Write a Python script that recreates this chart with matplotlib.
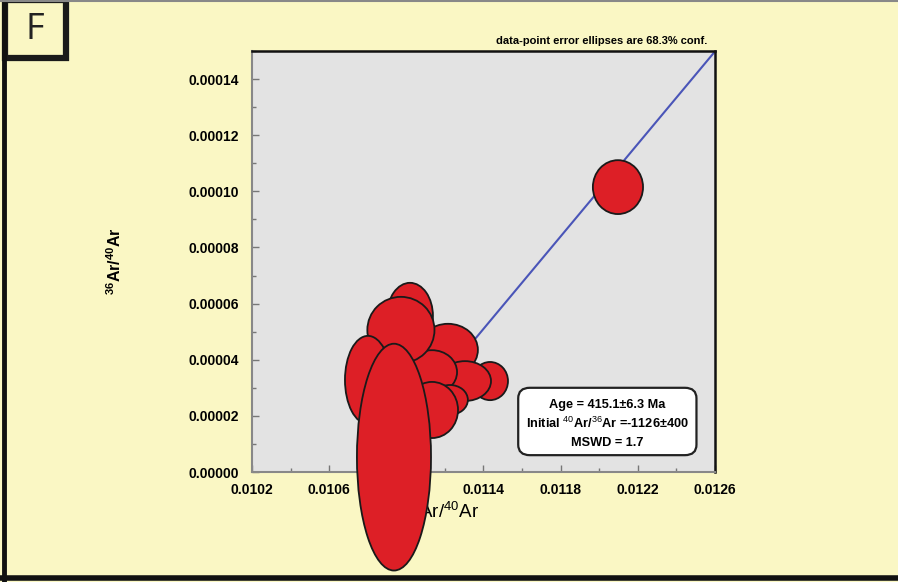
import numpy as np
import matplotlib
matplotlib.use("Agg")
import matplotlib.pyplot as plt
from matplotlib.patches import Ellipse, FancyBboxPatch, Rectangle
from matplotlib.ticker import FormatStrFormatter, MultipleLocator

plt.rcParams['font.family'] = ['Liberation Sans', 'DejaVu Sans']
plt.rcParams['mathtext.fontset'] = 'custom'
plt.rcParams['mathtext.rm'] = 'Liberation Sans'
plt.rcParams['mathtext.bf'] = 'Liberation Sans:bold'

# 39Ar/40Ar, 36Ar/40Ar and 1-sigma errors (ellipse half axes), back to front
ar39_40 = [0.011216, 0.011434, 0.011304, 0.011133, 0.011226, 0.011133,
           0.011019, 0.010972, 0.010801, 0.010936, 0.012097]
ar36_40 = [4.35e-5, 3.24e-5, 3.24e-5, 3.56e-5, 2.57e-5, 2.21e-5,
           5.56e-5, 5.06e-5, 3.28e-5, 5.3e-6, 1.015e-4]
err_x = [1.55e-4, 0.93e-4, 1.35e-4, 1.30e-4, 0.93e-4, 1.35e-4,
         1.19e-4, 1.74e-4, 1.19e-4, 1.92e-4, 1.30e-4]
err_y = [9.3e-6, 6.8e-6, 7.1e-6, 7.8e-6, 5.3e-6, 1.0e-5,
         1.18e-5, 1.18e-5, 1.57e-5, 4.04e-5, 9.6e-6]

# isochron fit
initial_40_36 = -1126
x_intercept = 0.010781

x_min, x_max = 0.0102, 0.0126
y_min, y_max = 0.0, 0.00015

BG = "#faf7c4"
fig = plt.figure(figsize=(8.98, 5.82), dpi=100, facecolor=BG)
ax = fig.add_axes([0.2806, 0.189, 0.5156, 0.7234])
ax.set_facecolor("#e3e3e3")
ax.set_xlim(x_min, x_max)
ax.set_ylim(y_min, y_max)

# isochron line
y_int = 1.0 / initial_40_36
slope = -y_int / x_intercept
line_x = np.array([x_intercept, x_max])
ax.plot(line_x, y_int + slope * line_x, color="#4a55b8", lw=1.5, zorder=2)

for x, y, sx, sy in zip(ar39_40, ar36_40, err_x, err_y):
    ax.add_patch(Ellipse((x, y), 2 * sx, 2 * sy, facecolor="#dd1f26",
                         edgecolor="#1a1a1a", lw=1.3, zorder=4, clip_on=False))

ax.xaxis.set_major_locator(MultipleLocator(0.0004, offset=0.0002))
ax.xaxis.set_minor_locator(MultipleLocator(0.0002))
ax.yaxis.set_major_locator(MultipleLocator(0.00002))
ax.yaxis.set_minor_locator(MultipleLocator(0.00001))
ax.xaxis.set_major_formatter(FormatStrFormatter("%.4f"))
ax.yaxis.set_major_formatter(FormatStrFormatter("%.5f"))
ax.tick_params(which="both", direction="in", color="#777777", labelsize=10,
               width=1)
ax.tick_params(which="major", length=5)
ax.tick_params(which="minor", length=3)
ax.tick_params(axis="y", pad=9.5)
ax.tick_params(axis="x", pad=8)
for lab in ax.get_xticklabels() + ax.get_yticklabels():
    lab.set_fontweight("bold")
for s in ["left", "bottom"]:
    ax.spines[s].set_color("#888888")
    ax.spines[s].set_linewidth(1.5)
for s in ["top", "right"]:
    ax.spines[s].set_color("#111111")
    ax.spines[s].set_linewidth(1.8)

ax.set_xlabel(r"$^{39}$Ar/$^{40}$Ar", fontsize=13.5)
ax.xaxis.set_label_coords(0.41, -0.07)
ax.set_ylabel(r"$\mathbf{^{36}Ar/^{40}Ar}$", fontsize=11.5)
ax.yaxis.set_label_coords(-0.276, 0.5)

ax.text(0.984, 1.012, "data-point error ellipses are 68.3% conf.",
        transform=ax.transAxes, ha="right", va="bottom", fontsize=8,
        fontweight="bold")

# result box
box = FancyBboxPatch((0.575, 0.04), 0.385, 0.16, transform=ax.transAxes,
                     boxstyle="round,pad=0,rounding_size=0.025",
                     facecolor="white", edgecolor="#222222", lw=1.6, zorder=5)
ax.add_patch(box)
box_lines = ["Age = 415.1\u00b16.3 Ma",
             r"Initial $^{40}$Ar/$^{36}$Ar =-1126" + "\u00b1400",
             "MSWD = 1.7"]
for i, t in enumerate(box_lines):
    ax.text(0.7675, 0.16 - i * 0.045, t, transform=ax.transAxes,
            ha="center", va="center", fontsize=9.2, fontweight="bold",
            zorder=6)

# panel frame and label
fig.add_artist(plt.Line2D([0.005, 0.005], [0.0, 1.0], color="#111111",
                          lw=3.5, transform=fig.transFigure))
fig.add_artist(plt.Line2D([0.0, 1.0], [0.007, 0.007], color="#111111",
                          lw=4, transform=fig.transFigure))
fig.add_artist(plt.Line2D([0.0, 1.0], [0.999, 0.999], color="#888888",
                          lw=1.5, transform=fig.transFigure))
fig.add_artist(Rectangle((0.006, 0.9), 0.068, 0.1, transform=fig.transFigure,
                         facecolor="none", edgecolor="#1a1a1a", lw=4.5))
fig.text(0.039, 0.948, "F", ha="center", va="center", fontsize=26,
         family="Open Sans", color="#222222")

fig.savefig("out.png", dpi=100, facecolor=BG)
